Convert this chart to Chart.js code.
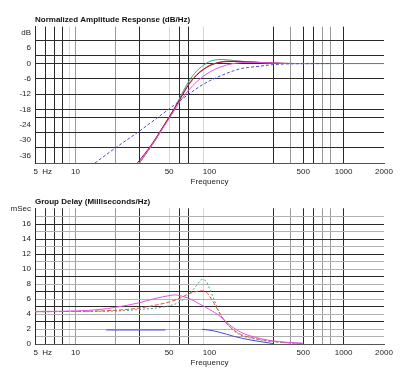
<!DOCTYPE html>
<html><head><meta charset="utf-8">
<script src="https://cdn.jsdelivr.net/npm/chart.js@4/dist/chart.umd.min.js"></script>
<style>
html,body{margin:0;padding:0;background:#fff;}
#wrap{position:relative;width:404px;height:380px;background:#fff;}
.box{position:absolute;left:0;width:404px;height:190px;}
</style></head><body>
<div id="wrap">
<div class="box" style="top:0"><canvas id="amp" width="404" height="190"></canvas></div>
<div class="box" style="top:190px"><canvas id="gd" width="404" height="190"></canvas></div>
</div>
<script>
// ---------- axis ticks / labels ----------
const freqTicks = [5,6,7,8,9,10,20,30,50,60,70,90,100,300,400,500,600,700,800,1000,2000];
const freqLabelValues = [5,10,50,100,500,1000,2000];
const freqLabelTexts  = ['       5  Hz','10','50','100','500','1000','2000'];
const freqDarkLines  = [6,7,8,30,60,70,300,500,600,1000];
const freqGrayLines  = [10,20,400,700,800];
const freqLightLines = [9,50,90];

const ampTickValues = [12,6,0,-6,-12,-18,-24,-30,-36];
const ampTickTexts  = ['dB','6','0','-6','-12','-18','-24','-30','-36'];
const ampGridValues = [9,3,0,-6,-12,-18,-21,-27,-33];

const gdTickValues = [18,16,14,12,10,8,6,4,2,0];
const gdTickTexts  = ['mSec','16','14','12','10','8','6','4','2','0'];
const gdGridValues = [17,16,15,14,13,12,11,10,9,8,7,6,5,4,3,2,1];
const gdDarkGrid   = [16,14,12,9,7,5,3];

// ---------- amplitude response (dB) ----------
const ampGreenHz = [30,35,40,45,50,55,60,65,70,80,90,100,110,125,150,200,300,500,2000];
const ampGreenDb = [-39,-34,-29.5,-25,-21,-17.3,-13.5,-10,-7,-3,-0.7,0.8,1.4,1.6,1.2,0.6,0.2,0,0];
const ampRedHz   = [30,35,40,45,50,55,60,65,70,80,90,100,120,140,170,250,300,450];
const ampRedDb   = [-39,-34,-29.5,-25,-21,-17.5,-14,-10.8,-8,-4.4,-2.2,-0.7,0.6,1.0,0.9,0.4,0.2,0];
const ampMaroonHz = [29,35,40,45,50,55,60,65,70,80,90,100,120,150,200,300,340];
const ampMaroonDb = [-39,-33.5,-29,-24.8,-21,-17.5,-14.2,-11,-8.3,-4.6,-2.4,-0.9,0.5,0.8,0.6,0.2,0];
const ampMagentaHz = [30,35,40,45,50,55,60,70,80,90,100,120,150,200,250,400,600];
const ampMagentaDb = [-39,-34,-29.5,-25.3,-21.6,-18.2,-15,-10.4,-7.2,-5,-3.4,-1.4,0,0.5,0.4,0,0];
const ampBlueHz = [14,20,30,40,50,60,70,85,100,125,150,175,240,300,400,800];
const ampBlueDb = [-39,-33,-26.5,-21.6,-17.8,-14.6,-12,-8.9,-6.8,-4.5,-2.9,-1.9,-1.0,-0.4,-0.1,0];

// ---------- group delay (ms) ----------
const gdGreenHz = [5,10,20,30,40,50,60,70,80,88,95,100,110,120,140,170,200,300,500];
const gdGreenMs = [4.3,4.35,4.4,4.6,4.8,5.1,5.6,6.6,7.8,8.6,8.3,7.4,5.6,4.0,2.4,1.2,0.8,0.3,0.05];
const gdRedHz = [5,10,20,30,40,50,60,70,80,87,95,100,110,120,140,170,200,300,500];
const gdRedMs = [4.3,4.35,4.5,4.8,5.2,5.6,6.1,6.7,7.0,7.1,6.9,6.4,5.2,4.0,2.4,1.3,0.9,0.35,0.05];
const gdMagentaHz = [5,10,15,20,30,40,50,55,60,70,85,100,120,140,170,200,300,500];
const gdMagentaMs = [4.35,4.4,4.6,4.9,5.5,6.1,6.45,6.55,6.45,6.1,5.3,4.6,3.7,2.6,1.6,1.1,0.4,0.1];
const gdBlueHz = [17,30,47,60,88,100,120,150,200,300];
const gdBlueMs = [1.87,1.87,1.87,null,1.95,1.85,1.55,1.05,0.55,0.05];

// ---------- helpers ----------
const FONT = "'Liberation Sans', Arial, sans-serif";
Chart.defaults.font.family = FONT;
Chart.defaults.font.size = 8;
Chart.defaults.color = '#222';

function pts(xs, ys){ return xs.map((x,i)=>({x:x, y:ys[i]})); }
function ds(xs, ys, color, dash){
  return {data: pts(xs,ys), borderColor: color, borderWidth: 1, borderDash: dash||[],
          pointRadius: 0, fill:false, cubicInterpolationMode:'monotone', spanGaps:false};
}
function xGridColor(v){
  if (freqDarkLines.includes(v)) return '#2a2a2a';
  if (freqGrayLines.includes(v)) return '#9a9a9a';
  if (freqLightLines.includes(v)) return '#d6d6d6';
  return 'rgba(0,0,0,0)';
}
function xScale(h){
  return {
    type:'logarithmic', min:5, max:2000,
    afterBuildTicks: s => { s.ticks = freqTicks.map(v=>({value:v})); },
    afterFit: s => { s.height = h; },
    ticks:{ autoSkip:false, maxRotation:0, minRotation:0, padding:3.5, color:'#222',
      callback: v => { const i = freqLabelValues.indexOf(v); return i>=0 ? freqLabelTexts[i] : ''; } },
    grid:{ drawTicks:false, color: c => xGridColor(c.tick ? c.tick.value : null), lineWidth:1 },
    border:{ display:true, color:'#555', width:1 },
    title:{ display:true, text:'Frequency', color:'#222', padding:0, font:{size:8} }
  };
}

// ---------- amplitude chart ----------
const ampYTicks = Array.from(new Set(ampTickValues.concat(ampGridValues))).sort((a,b)=>b-a);
new Chart(document.getElementById('amp'), {
  type:'line',
  data:{ datasets:[
    ds(ampBlueHz, ampBlueDb, '#4a4ad0', [3,2]),
    ds(ampMagentaHz, ampMagentaDb, '#e055e0'),
    ds(ampMaroonHz, ampMaroonDb, '#8c1c3c'),
    ds(ampRedHz, ampRedDb, '#e0503a'),
    ds(ampGreenHz, ampGreenDb, '#3fa08a')
  ]},
  options:{
    responsive:false, animation:false, devicePixelRatio:1,
    layout:{ padding:{ top:15, right:20, bottom:3, left:0 } },
    plugins:{
      legend:{display:false}, tooltip:{enabled:false},
      title:{ display:true, text:'Normalized Amplitude Response (dB/Hz)', align:'start', fullSize:false,
        color:'#111', font:{size:8, weight:'bold'}, padding:{top:0,bottom:2} }
    },
    scales:{
      x: xScale(24),
      y: {
        min:-39, max:14.5,
        afterBuildTicks: s => { s.ticks = ampYTicks.map(v=>({value:v})); },
        afterFit: s => { s.width = 35; },
        ticks:{ autoSkip:false, padding:4, color:'#222',
          callback: v => { const i = ampTickValues.indexOf(v); return i>=0 ? ampTickTexts[i] : ''; } },
        grid:{ drawTicks:false, color: c => (c.tick && ampGridValues.includes(c.tick.value)) ? '#2a2a2a' : 'rgba(0,0,0,0)' },
        border:{ display:true, color:'#2a2a2a', width:1 }
      }
    }
  }
});

// ---------- group delay chart ----------
const gdYTicks = Array.from(new Set(gdTickValues.concat(gdGridValues))).sort((a,b)=>b-a);
new Chart(document.getElementById('gd'), {
  type:'line',
  data:{ datasets:[
    ds(gdBlueHz, gdBlueMs, '#4a4ad0'),
    ds(gdMagentaHz, gdMagentaMs, '#e055e0'),
    ds(gdRedHz, gdRedMs, '#e0503a', [4,2]),
    ds(gdGreenHz, gdGreenMs, '#3fa08a', [2,2])
  ]},
  options:{
    responsive:false, animation:false, devicePixelRatio:1,
    layout:{ padding:{ top:6.7, right:20, bottom:12, left:0 } },
    plugins:{
      legend:{display:false}, tooltip:{enabled:false},
      title:{ display:true, text:'Group Delay (Milliseconds/Hz)', align:'start', fullSize:false,
        color:'#111', font:{size:8, weight:'bold'}, padding:{top:0,bottom:2} }
    },
    scales:{
      x: xScale(24),
      y: {
        min:0, max:18.1,
        afterBuildTicks: s => { s.ticks = gdYTicks.map(v=>({value:v})); },
        afterFit: s => { s.width = 35; },
        ticks:{ autoSkip:false, padding:4, color:'#222',
          callback: v => { const i = gdTickValues.indexOf(v); return i>=0 ? gdTickTexts[i] : ''; } },
        grid:{ drawTicks:false, color: c => {
          const v = c.tick ? c.tick.value : null;
          if (!gdGridValues.includes(v)) return 'rgba(0,0,0,0)';
          return gdDarkGrid.includes(v) ? '#2a2a2a' : '#b0b0b0'; } },
        border:{ display:true, color:'#2a2a2a', width:1 }
      }
    }
  }
});
</script>
</body></html>
